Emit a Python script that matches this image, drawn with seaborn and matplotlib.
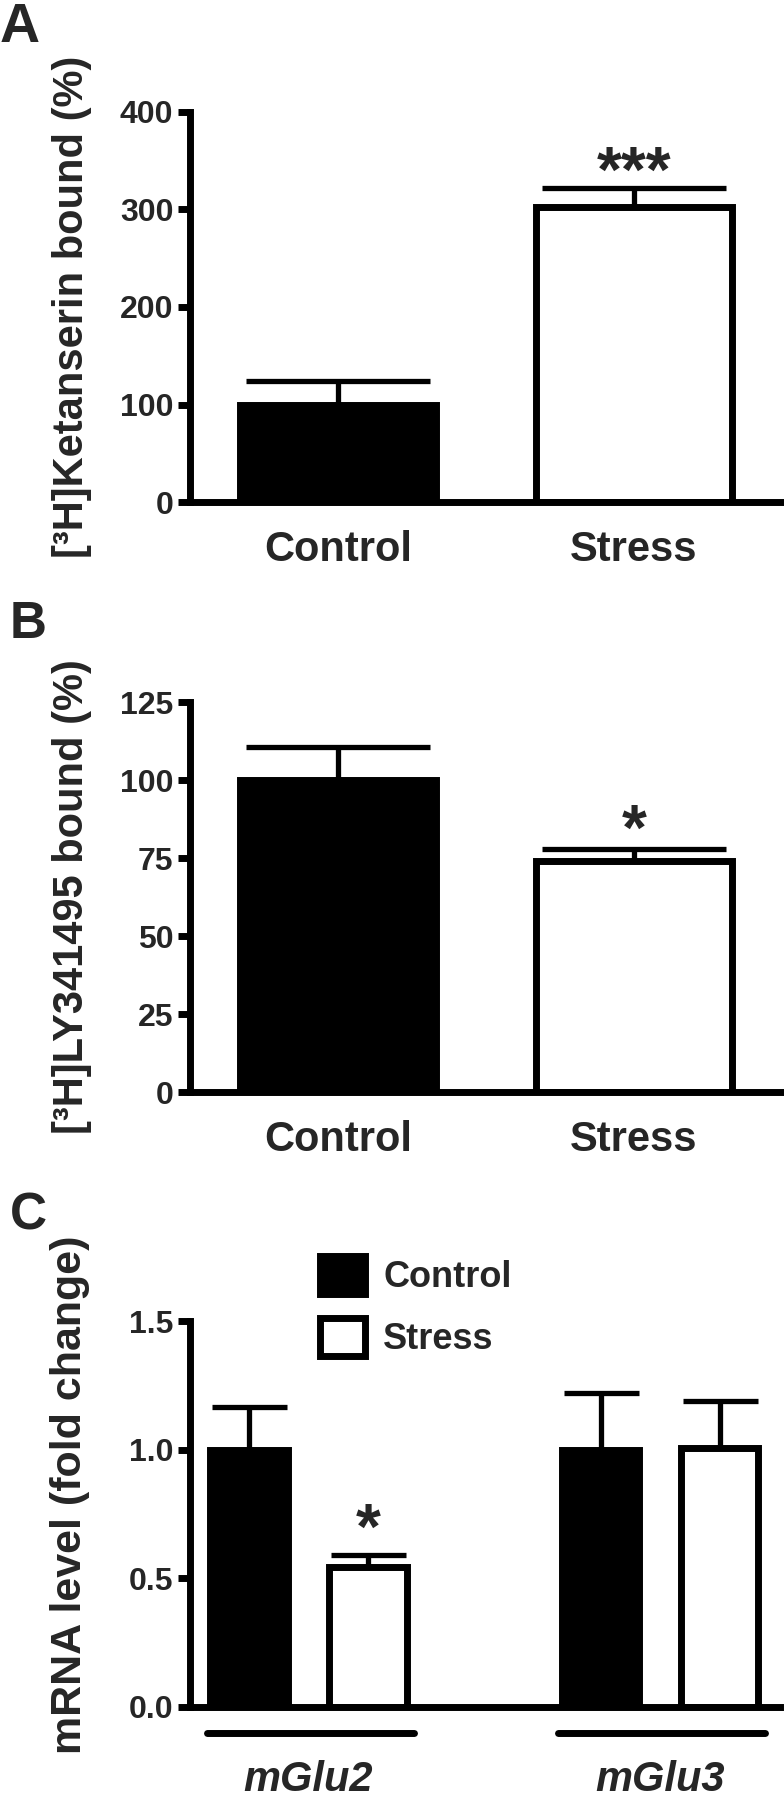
import numpy as np
import pandas as pd
import matplotlib
matplotlib.use("Agg")
import matplotlib.pyplot as plt
import matplotlib.transforms as mtransforms
from matplotlib.container import BarContainer
import seaborn as sns

# ---------------- data ----------------
groups_ab = ["Control", "Stress"]
ketanserin_mean = [100, 303]
ketanserin_sem = [24, 19]
ly_mean = [100, 74]
ly_sem = [10.5, 4]

genes = ["mGlu2", "mGlu3"]
conditions = ["Control", "Stress"]
mrna_control = [1.0, 1.0]
mrna_stress = [0.545, 1.005]
mrna_control_sem = [0.165, 0.22]
mrna_stress_sem = [0.045, 0.185]

ticks_a = [0, 100, 200, 300, 400]
ticks_b = [0, 25, 50, 75, 100, 125]
ticks_c = [0.0, 0.5, 1.0, 1.5]
tick_labels_c = ["0.0", "0.5", "1.0", "1.5"]

# ---------------- style ----------------
sns.set_theme(style="white")
plt.rcParams["font.family"] = ["Liberation Sans", "DejaVu Sans"]
plt.rcParams["font.weight"] = "bold"
plt.rcParams["axes.labelweight"] = "bold"

LW = 5.0
palette = ["black", "white"]

fig = plt.figure(figsize=(7.84, 18.0), dpi=100)
axA = fig.add_axes([0.2423, 0.7211, 0.7551, 0.2167])
axB = fig.add_axes([0.2423, 0.3933, 0.7551, 0.2167])
axC = fig.add_axes([0.2423, 0.0517, 0.7526, 0.2144])


def style_axis(ax, ticks, ticklabels=None):
    for s in ["top", "right"]:
        ax.spines[s].set_visible(False)
    for s in ["left", "bottom"]:
        ax.spines[s].set_linewidth(LW)
        ax.spines[s].set_color("black")
        ax.spines[s].set_capstyle("projecting")
    ax.set_yticks(ticks)
    if ticklabels is not None:
        ax.set_yticklabels(ticklabels)
    ax.set_ylim(ticks[0], ticks[-1])
    ax.tick_params(axis="y", direction="out", length=9, width=LW, pad=3,
                   labelsize=23, left=True, color="black")
    for t in ax.get_yticklabels():
        t.set_fontweight("bold")
    ax.grid(False)


def simple_panel(ax, means, sems, ticks, ylabel, star, star_off, capsize):
    df = pd.DataFrame({"group": groups_ab, "value": means})
    sns.barplot(data=df, x="group", y="value", hue="group", palette=palette,
                edgecolor="black", linewidth=LW, width=0.66, errorbar=None,
                legend=False, ax=ax)
    style_axis(ax, ticks)
    ax.set_xlim(-0.5, 1.5)
    bars = sorted(ax.patches, key=lambda p: p.get_x())
    for p, m, e in zip(bars, means, sems):
        xc = p.get_x() + p.get_width() / 2
        ax.errorbar([xc], [m], yerr=[[0], [e]], fmt="none", ecolor="black",
                    elinewidth=3.8, capsize=capsize, capthick=3.8, zorder=1)
    p = bars[1]
    ax.text(p.get_x() + p.get_width() / 2, means[1] + sems[1] + star_off, star,
            ha="center", va="center", fontsize=46, fontweight="bold")
    ax.set_xlabel("")
    ax.set_ylabel(ylabel, fontsize=30, fontweight="bold")
    ax.yaxis.set_label_coords(-0.165, 0.5)
    ax.tick_params(axis="x", length=0, pad=20, labelsize=30)
    for t in ax.get_xticklabels():
        t.set_fontweight("bold")


simple_panel(axA, ketanserin_mean, ketanserin_sem, ticks_a,
             "[³H]Ketanserin bound (%)", "***", 14, 66)
simple_panel(axB, ly_mean, ly_sem, ticks_b,
             "[³H]LY341495 bound (%)", "*", 5.0, 66)

# ---------------- panel C ----------------
dfc = pd.DataFrame({
    "gene": genes * 2,
    "condition": [conditions[0]] * 2 + [conditions[1]] * 2,
    "value": mrna_control + mrna_stress,
})
sns.barplot(data=dfc, x="gene", y="value", hue="condition",
            hue_order=conditions, palette=palette, edgecolor="black",
            linewidth=LW, width=0.677, gap=0.35, errorbar=None, ax=axC)
style_axis(axC, ticks_c, tick_labels_c)
axC.set_xlim(-0.337, 1.341)

bar_conts = [c for c in axC.containers if isinstance(c, BarContainer)]
sems_by_cond = [mrna_control_sem, mrna_stress_sem]
means_by_cond = [mrna_control, mrna_stress]
for ci, cont in enumerate(bar_conts):
    for gi, p in enumerate(cont.patches):
        xc = p.get_x() + p.get_width() / 2
        axC.errorbar([xc], [means_by_cond[ci][gi]],
                     yerr=[[0], [sems_by_cond[ci][gi]]], fmt="none",
                     ecolor="black", elinewidth=3.8, capsize=27,
                     capthick=3.8, zorder=1)

# significance star over mGlu2 stress bar
p = bar_conts[1].patches[0]
axC.text(p.get_x() + p.get_width() / 2,
         mrna_stress[0] + mrna_stress_sem[0] + 0.09, "*",
         ha="center", va="center", fontsize=46, fontweight="bold")

# group underlines
trans = mtransforms.blended_transform_factory(axC.transData, axC.transAxes)
for gi in range(len(genes)):
    left = bar_conts[0].patches[gi].get_x()
    right = (bar_conts[1].patches[gi].get_x()
             + bar_conts[1].patches[gi].get_width())
    axC.plot([left - 0.01, right + 0.02], [-0.0674, -0.0674], color="black",
             lw=5, solid_capstyle="round", transform=trans, clip_on=False)

axC.set_xlabel("")
axC.set_xticks(range(len(genes)))
axC.set_xticklabels(genes)
axC.tick_params(axis="x", length=0, pad=38, labelsize=30)
for t in axC.get_xticklabels():
    t.set_fontweight("bold")
    t.set_fontstyle("italic")
axC.set_ylabel("mRNA level (fold change)", fontsize=31, fontweight="bold")
axC.yaxis.set_label_coords(-0.17, 0.55)

leg = axC.get_legend()
handles = list(leg.legend_handles)
labels = [t.get_text() for t in leg.texts]
leg.remove()
for h in handles:
    h.set_edgecolor("black")
    h.set_linewidth(LW)
axC.legend(handles, labels, loc="upper left", bbox_to_anchor=(0.19, 1.215),
           frameon=False, handlelength=1.25, handleheight=1.25,
           handletextpad=0.5, labelspacing=0.62, borderpad=0,
           prop={"weight": "bold", "size": 26})

# panel letters
fig.text(0.0, 0.999, "A", fontsize=40, fontweight="bold", va="top", ha="left")
fig.text(0.012, 1 - 600 / 1800, "B", fontsize=37, fontweight="bold", va="top", ha="left")
fig.text(0.013, 1 - 1192 / 1800, "C", fontsize=37, fontweight="bold", va="top", ha="left")

fig.savefig("out.png", dpi=100, facecolor="white")
